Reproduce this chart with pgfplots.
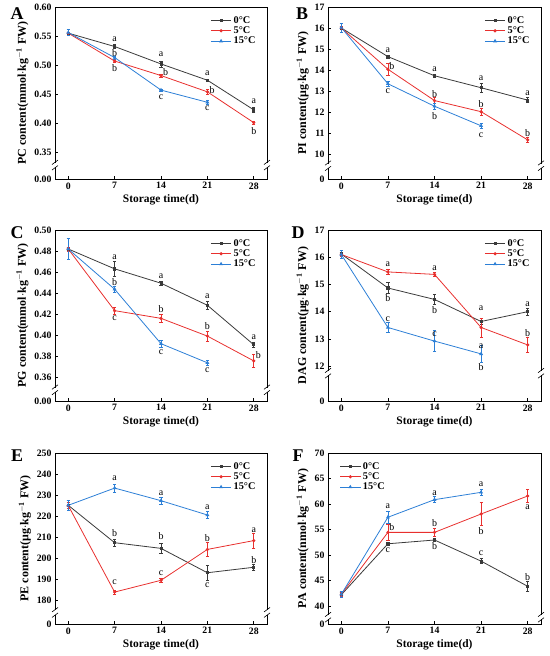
\documentclass[border=0pt]{standalone}
\usepackage{fontspec}
\setmainfont{Liberation Serif}
\usepackage{pgfplots}
\pgfplotsset{compat=1.18}
\definecolor{cg}{HTML}{3A3A3A}
\definecolor{cr}{HTML}{E8302E}
\definecolor{cb}{HTML}{2C7FD6}
\newcommand{\brk}[2]{%
  \fill[white] ([shift={(-4bp,-2.2bp)}]axis cs:#1,#2) rectangle ([shift={(4bp,2.2bp)}]axis cs:#1,#2);
  \draw[black, line width=0.6pt] ([shift={(-3bp,-5bp)}]axis cs:#1,#2) -- ([shift={(3bp,-0.5bp)}]axis cs:#1,#2);
  \draw[black, line width=0.6pt] ([shift={(-3bp,0.5bp)}]axis cs:#1,#2) -- ([shift={(3bp,5bp)}]axis cs:#1,#2);}
\newcommand{\lt}[3]{\node[font=\fontsize{10}{11}\selectfont, inner sep=0pt] at (axis cs:#1,#2) {#3};}
\pgfplotsset{
 panel/.style={scale only axis, width=212bp, height=172bp, anchor=south west,
  xmin=-2, xmax=30, xtick={0,7,14,21,28}, xticklabels={0,7,14,21,28},
  tick align=inside, tick pos=left, major tick length=3bp,
  tick style={black, line width=0.6pt},
  axis line style={line width=0.6pt},
  tick label style={font=\bfseries\fontsize{9.8}{10}\selectfont},
  xlabel style={font=\bfseries\fontsize{11.5}{12}\selectfont, yshift=1bp},
  ylabel style={font=\bfseries\fontsize{12}{13}\selectfont, yshift=-1bp},
  xlabel={Storage time(d)},
  clip=false,
  legend style={draw=none, fill=none, font=\bfseries\fontsize{10.3}{11}\selectfont, at={(0.97,0.97)}, anchor=north east, row sep=-2pt},
  legend image code/.code={\draw[mark repeat=2,mark phase=2] plot coordinates {(0cm,0cm) (0.36cm,0cm) (0.72cm,0cm)};},
  legend cell align=left,
 },
 sg/.style={color=cg, line width=0.8pt, mark=square*, mark size=1.1pt, error bars/.cd, y dir=both, y explicit, error bar style={line width=0.6pt}, error mark options={rotate=90, mark size=1.6pt, line width=0.6pt}},
 sr/.style={color=cr, line width=0.8pt, mark=*, mark size=1.2pt, error bars/.cd, y dir=both, y explicit, error bar style={line width=0.6pt}, error mark options={rotate=90, mark size=1.6pt, line width=0.6pt}},
 sb/.style={color=cb, line width=0.8pt, mark=triangle*, mark size=1.5pt, error bars/.cd, y dir=both, y explicit, error bar style={line width=0.6pt}, error mark options={rotate=90, mark size=1.6pt, line width=0.6pt}},
}
\begin{document}
\begin{tikzpicture}
\useasboundingbox (0,0) rectangle (550bp,656bp);
% ---------- A
\begin{axis}[panel, at={(55bp,477bp)}, ymin=0.304, ymax=0.60,
  ytick={0.304,0.35,0.40,0.45,0.50,0.55,0.60}, yticklabels={0.00,0.35,0.40,0.45,0.50,0.55,0.60},
  ylabel={PC content(mmol$\cdot$kg$^{\mathbf{-1}}$ FW)}]
\addplot[sg] coordinates {(0,0.555) +- (0,0.002) (7,0.532) +- (0,0.003) (14,0.502) +- (0,0.005) (21,0.474) +- (0,0.002) (28,0.423) +- (0,0.004)};
\addplot[sr] coordinates {(0,0.555) +- (0,0.002) (7,0.507) +- (0,0.003) (14,0.482) +- (0,0.003) (21,0.454) +- (0,0.004) (28,0.401) +- (0,0.003)};
\addplot[sb] coordinates {(0,0.556) +- (0,0.005) (7,0.513) +- (0,0.003) (14,0.457) +- (0,0.002) (21,0.436) +- (0,0.003)};
\legend{0\textdegree C,5\textdegree C,15\textdegree C}
\lt{7}{0.5454}{a}\lt{7}{0.5212}{b}\lt{7}{0.494}{b}
\lt{14}{0.518}{a}\lt{14.7}{0.4878}{b}\lt{14}{0.4445}{c}
\lt{21}{0.4855}{a}\lt{21.7}{0.4578}{b}\lt{21}{0.426}{c}
\lt{28}{0.4376}{a}\lt{28}{0.3869}{b}
\brk{-2}{0.328}\brk{30}{0.328}
\end{axis}
% ---------- B
\begin{axis}[panel, at={(328bp,477bp)}, width=213bp, ymin=8.82, ymax=17,
  ytick={8.82,10,11,12,13,14,15,16,17}, yticklabels={0,10,11,12,13,14,15,16,17},
  ylabel={PI content(μg$\cdot$kg$^{\mathbf{-1}}$ FW)}]
\addplot[sg] coordinates {(0,16.0) +- (0,0.08) (7,14.64) +- (0,0.08) (14,13.73) +- (0,0.08) (21,13.16) +- (0,0.2) (28,12.57) +- (0,0.12)};
\addplot[sr] coordinates {(0,16.0) +- (0,0.08) (7,14.04) +- (0,0.3) (14,12.55) +- (0,0.15) (21,12.02) +- (0,0.15) (28,10.68) +- (0,0.1)};
\addplot[sb] coordinates {(0,16.02) +- (0,0.2) (7,13.35) +- (0,0.12) (14,12.28) +- (0,0.15) (21,11.35) +- (0,0.12)};
\legend{0\textdegree C,5\textdegree C,15\textdegree C}
\lt{7}{14.96}{a}\lt{7.6}{14.19}{b}\lt{7}{13.0}{c}
\lt{14}{14.04}{a}\lt{14}{12.88}{b}\lt{14}{11.83}{b}
\lt{21}{13.59}{a}\lt{21}{12.39}{b}\lt{21}{10.92}{c}
\lt{28}{12.92}{a}\lt{28}{11.0}{b}
\brk{-2}{9.45}\brk{30}{9.45}
\end{axis}
% ---------- C
\begin{axis}[panel, at={(55bp,255bp)}, height=171bp, ymin=0.338, ymax=0.50,
  ytick={0.338,0.36,0.38,0.40,0.42,0.44,0.46,0.48,0.50}, yticklabels={0.00,0.36,0.38,0.40,0.42,0.44,0.46,0.48,0.50},
  ylabel={PG content(mmol$\cdot$kg$^{\mathbf{-1}}$ FW)}]
\addplot[sg] coordinates {(0,0.482) +- (0,0.002) (7,0.4632) +- (0,0.007) (14,0.4496) +- (0,0.002) (21,0.4287) +- (0,0.004) (28,0.3913) +- (0,0.002)};
\addplot[sr] coordinates {(0,0.482) +- (0,0.002) (7,0.4236) +- (0,0.003) (14,0.4163) +- (0,0.004) (21,0.3995) +- (0,0.005) (28,0.376) +- (0,0.006)};
\addplot[sb] coordinates {(0,0.482) +- (0,0.01) (7,0.4439) +- (0,0.003) (14,0.3923) +- (0,0.003) (21,0.3742) +- (0,0.002)};
\legend{0\textdegree C,5\textdegree C,15\textdegree C}
\lt{7}{0.4743}{a}\lt{7}{0.4509}{b}\lt{7}{0.4167}{c}
\lt{14}{0.4562}{a}\lt{14}{0.4255}{b}\lt{14}{0.384}{c}
\lt{21}{0.4376}{a}\lt{21}{0.4087}{b}\lt{21}{0.3669}{c}
\lt{28}{0.3983}{a}\lt{28.7}{0.3818}{b}
\brk{-2}{0.3486}\brk{30}{0.3486}
\end{axis}
% ---------- D
\begin{axis}[panel, at={(328bp,255bp)}, width=213bp, height=171bp, ymin=10.72, ymax=17,
  ytick={10.72,12,13,14,15,16,17}, yticklabels={0,12,13,14,15,16,17},
  ylabel={DAG content(μg$\cdot$kg$^{\mathbf{-1}}$ FW)}]
\addplot[sg] coordinates {(0,16.12) +- (0,0.05) (7,14.87) +- (0,0.2) (14,14.45) +- (0,0.18) (21,13.64) +- (0,0.1) (28,14.0) +- (0,0.12)};
\addplot[sr] coordinates {(0,16.1) +- (0,0.05) (7,15.46) +- (0,0.1) (14,15.37) +- (0,0.08) (21,13.42) +- (0,0.35) (28,12.78) +- (0,0.28)};
\addplot[sb] coordinates {(0,16.1) +- (0,0.15) (7,13.42) +- (0,0.18) (14,12.92) +- (0,0.38) (21,12.45) +- (0,0.3)};
\legend{0\textdegree C,5\textdegree C,15\textdegree C}
\lt{7}{15.73}{a}\lt{7}{14.5}{b}\lt{7}{13.74}{c}
\lt{14}{15.6}{a}\lt{14}{14.07}{b}\lt{14}{13.18}{c}
\lt{21}{14.13}{a}\lt{21}{12.74}{a}\lt{21}{11.96}{b}
\lt{28}{14.28}{a}\lt{28}{13.2}{b}
\brk{-2}{11.74}\brk{30}{11.74}
\end{axis}
% ---------- E
\begin{axis}[panel, at={(55bp,32bp)}, height=171bp, ymin=168.6, ymax=250,
  ytick={168.6,180,190,200,210,220,230,240,250}, yticklabels={0,180,190,200,210,220,230,240,250},
  ylabel={PE content(μg$\cdot$kg$^{\mathbf{-1}}$ FW)}]
\addplot[sg] coordinates {(0,225.1) +- (0,2.5) (7,207.3) +- (0,1.8) (14,204.6) +- (0,2.5) (21,193.0) +- (0,3.5) (28,195.6) +- (0,1.2)};
\addplot[sr] coordinates {(0,225.0) +- (0,1.5) (7,183.8) +- (0,1.0) (14,189.4) +- (0,1.0) (21,204.1) +- (0,3.3) (28,208.3) +- (0,3.5)};
\addplot[sb] coordinates {(0,225.1) +- (0,2.5) (7,233.3) +- (0,2.0) (14,227.3) +- (0,1.5) (21,220.5) +- (0,1.8)};
\legend{0\textdegree C,5\textdegree C,15\textdegree C}
\lt{7}{237.9}{a}\lt{7}{211.9}{b}\lt{7}{188.4}{c}
\lt{14}{230.8}{a}\lt{14}{210.3}{b}\lt{14}{192.7}{c}
\lt{21}{224.4}{a}\lt{21}{209.7}{b}\lt{21}{187.3}{c}
\lt{28}{213.3}{a}\lt{28}{199.2}{b}
\brk{-2}{174.1}\brk{30}{174.1}
\end{axis}
% ---------- F
\begin{axis}[panel, at={(328bp,32bp)}, width=213bp, height=171bp, ymin=36.47, ymax=70,
  ytick={36.47,40,45,50,55,60,65,70}, yticklabels={0,40,45,50,55,60,65,70},
  ylabel={PA content(nmol$\cdot$kg$^{\mathbf{-1}}$ FW)},
  legend style={at={(0.04,0.97)}, anchor=north west}]
\addplot[sg] coordinates {(0,42.2) +- (0,0.4) (7,52.2) +- (0,0.3) (14,52.94) +- (0,0.3) (21,48.8) +- (0,0.5) (28,43.86) +- (0,1.0)};
\addplot[sr] coordinates {(0,42.3) +- (0,0.4) (7,54.44) +- (0,1.5) (14,54.44) +- (0,0.7) (21,58.04) +- (0,2.3) (28,61.57) +- (0,1.3)};
\addplot[sb] coordinates {(0,42.3) +- (0,0.6) (7,57.4) +- (0,1.2) (14,60.85) +- (0,0.6) (21,62.29) +- (0,0.6)};
\legend{0\textdegree C,5\textdegree C,15\textdegree C}
\lt{7}{59.5}{a}\lt{7.6}{55.56}{b}\lt{7}{51.0}{c}
\lt{14}{62.16}{a}\lt{14}{56.2}{b}\lt{14}{51.8}{b}
\lt{21}{63.8}{a}\lt{21}{54.6}{b}\lt{21}{50.3}{c}
\lt{28}{59.35}{a}\lt{28}{45.6}{b}
\brk{-2}{37.8}\brk{30}{37.8}
\end{axis}
% panel letters
\foreach \L/\x/\y in {A/17/642, B/302/642, C/17/423, D/298/423, E/17/200, F/298/200}
  \node[font=\bfseries\fontsize{18}{19}\selectfont, inner sep=0pt] at (\x bp,\y bp) {\L};
\end{tikzpicture}
\end{document}
